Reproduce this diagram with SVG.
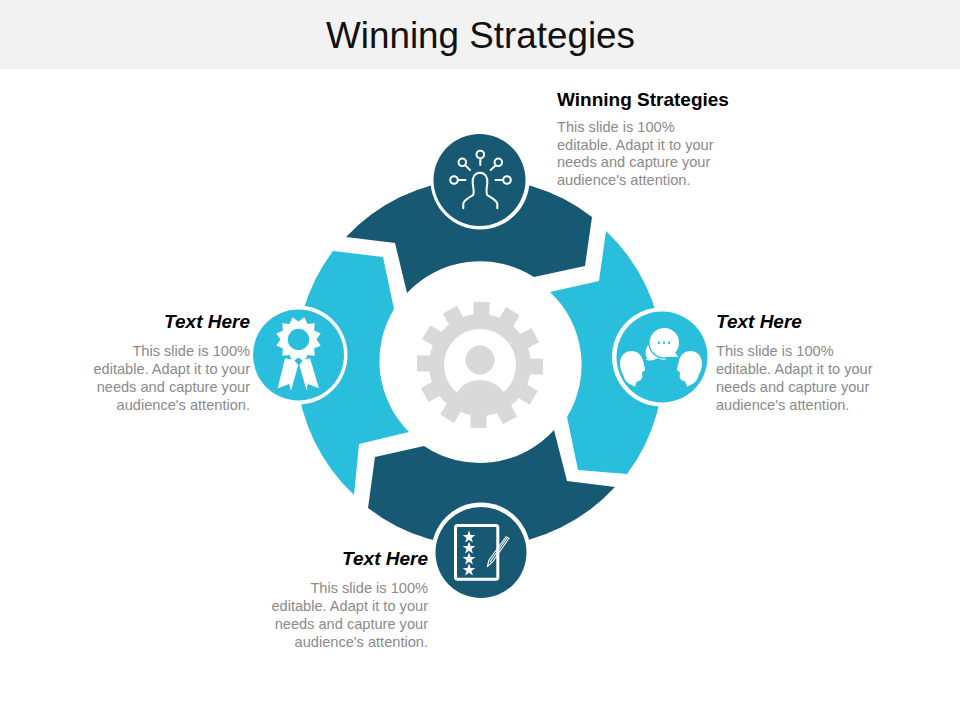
<svg xmlns="http://www.w3.org/2000/svg" width="960" height="720" viewBox="0 0 960 720">
<style>
text{font-family:"Liberation Sans",Arial,sans-serif}
.title{font-size:36.8px;fill:#111;text-anchor:middle}
.h{font-size:19px;font-weight:bold;fill:#000}
.hi{font-style:italic}
.b{font-size:14.6px;fill:#8a8a8a}
.e{text-anchor:end}
.dark{fill:#175873}
.cyan{fill:#29bedc}
.ring{fill:#fff}
.line{fill:none;stroke:#fff;stroke-width:2;stroke-linecap:round;stroke-linejoin:round}
.w{fill:#fff}
.gear{fill:#d9d9d9}
</style>
<rect width="960" height="69" fill="#f2f2f2"/>
<text class="title" x="480.5" y="48">Winning Strategies</text>

<g id="segment-top"><path class="dark" d="M346,237A183,183 0 0 1 592,217L585,266L534,277A100,100 0 0 0 407,293L395,243Z"/></g>
<g id="segment-right"><path class="cyan" d="M606,231A183,183 0 0 1 627,474L578,470L567,417A100,100 0 0 0 550,292L599,281Z"/></g>
<g id="segment-bottom"><path class="dark" d="M615,487A183,183 0 0 1 368,508L375,457L424,446A100,100 0 0 0 554,430L567,481Z"/></g>
<g id="segment-left"><path class="cyan" d="M354,495A183,183 0 0 1 333,251L383,257L394,309A100,100 0 0 0 409,432L359,444Z"/></g>

<g id="gear">
<g transform="translate(480 365) rotate(1.5)" class="gear">
<rect x="-8" y="-63" width="16" height="126"/>
<rect x="-8" y="-63" width="16" height="126" transform="rotate(30)"/>
<rect x="-8" y="-63" width="16" height="126" transform="rotate(60)"/>
<rect x="-8" y="-63" width="16" height="126" transform="rotate(90)"/>
<rect x="-8" y="-63" width="16" height="126" transform="rotate(120)"/>
<rect x="-8" y="-63" width="16" height="126" transform="rotate(150)"/>
</g>
<circle class="gear" cx="480" cy="365" r="51"/>
<circle class="w" cx="480" cy="365" r="36"/>
<circle class="gear" cx="480" cy="360" r="14.5"/>
<path class="gear" d="M457,393C461,385 470,380 480,380C490,380 499,385 504,393L490,410H470Z"/>
</g>

<g id="node-top">
<circle class="ring" cx="480" cy="180" r="49.5"/>
<circle class="dark" cx="479.5" cy="180" r="46"/>
<path class="line" d="M463.3,208.3V203.3C465,199 470,197 473.3,195C474.5,191 473,187 472.7,183.3C472,177 475,172.7 480,172.7C485,172.7 488,177 487.3,183.3C487,187 485.5,191 487.3,195C490,197 495,199 497.3,203.3V208.3"/>
<g class="line">
<circle cx="480.3" cy="154.5" r="3.8"/><circle cx="462.3" cy="162.3" r="3.8"/><circle cx="498.3" cy="162.3" r="3.8"/><circle cx="454" cy="180" r="3.8"/><circle cx="507" cy="180" r="3.8"/>
<path d="M480.3,158.5V165M466,166L470,170M495,166L490.7,170M458.5,180H465.5M502.5,180H495.5"/>
</g>
<text class="h" x="557" y="106">Winning Strategies</text>
<text class="b"><tspan x="557" y="132">This slide is 100%</tspan><tspan x="557" y="150">editable. Adapt it to your</tspan><tspan x="557" y="167">needs and capture your</tspan><tspan x="557" y="185">audience's attention.</tspan></text>
</g>

<g id="node-right">
<circle class="ring" cx="661.5" cy="357" r="49.5"/>
<circle class="cyan" cx="662" cy="357" r="45.5"/>
<path class="w" d="M631.7,351C624,351 620,357 620,363.3C620,368 621.5,372 623.3,375C624,379 626,381.5 628.3,383.3L635,386.7L636.7,381.7L640.7,380C642,379 642.6,377 642.3,375L641.7,372.7L645.3,370L643.3,361.7C642,355 637,351 631.7,351Z"/>
<path class="w" d="M690.3,351C698,351 702,357 702,363.3C702,368 700.5,372 698.7,375C698,379 696,381.5 693.7,383.3L687,386.7L685.3,381.7L681.3,380C680,379 679.4,377 679.7,375L680.3,372.7L676.7,370L678.7,361.7C680,355 685,351 690.3,351Z"/>
<path class="w" d="M648,345C645,350 645,355 647,358L646,360C651,361 655,360 658,358C661,360 664,360 667,359L655,355Z"/>
<circle cx="664.3" cy="342.7" r="16" fill="#29bedc"/>
<circle class="w" cx="664.3" cy="342.7" r="14.7"/>
<path class="w" d="M666,357L678.3,356.7L673,350Z"/>
<g class="cyan"><circle cx="659" cy="342.7" r="1.2"/><circle cx="664" cy="342.7" r="1.2"/><circle cx="669" cy="342.7" r="1.2"/></g>
<text class="h hi" x="716" y="328">Text Here</text>
<text class="b"><tspan x="716" y="356">This slide is 100%</tspan><tspan x="716" y="374">editable. Adapt it to your</tspan><tspan x="716" y="392">needs and capture your</tspan><tspan x="716" y="410">audience's attention.</tspan></text>
</g>

<g id="node-bottom">
<circle class="ring" cx="481" cy="552" r="49.5"/>
<circle class="dark" cx="481" cy="552.5" r="45.5"/>
<rect x="455.5" y="525.5" width="42.3" height="53.7" rx="2" fill="none" stroke="#fff" stroke-width="3"/>
<g class="w">
<path d="M469,530.5L470.6,535H475.3L471.5,537.9L472.9,542.5L469,539.8L465.1,542.5L466.5,537.9L462.7,535H467.4Z"/>
<path d="M469,541.5L470.6,546H475.3L471.5,548.9L472.9,553.5L469,550.8L465.1,553.5L466.5,548.9L462.7,546H467.4Z"/>
<path d="M469,552.5L470.6,557H475.3L471.5,559.9L472.9,564.5L469,561.8L465.1,564.5L466.5,559.9L462.7,557H467.4Z"/>
<path d="M469,563.5L470.6,568H475.3L471.5,570.9L472.9,575.5L469,572.8L465.1,575.5L466.5,570.9L462.7,568H467.4Z"/>
</g>
<path d="M487.3,566.7L489,560L506,536.7L509,538.3L492.7,561.7ZM490,562L507,538" fill="none" stroke="#fff" stroke-width="1.1" stroke-linejoin="round"/>
<text class="h hi e" x="428" y="565">Text Here</text>
<text class="b e"><tspan x="428" y="593">This slide is 100%</tspan><tspan x="428" y="611">editable. Adapt it to your</tspan><tspan x="428" y="629">needs and capture your</tspan><tspan x="428" y="647">audience's attention.</tspan></text>
</g>

<g id="node-left">
<circle class="ring" cx="298" cy="355" r="49.5"/>
<circle class="cyan" cx="298.5" cy="355" r="45.5"/>
<path class="w" transform="translate(298.5 339.5) rotate(15)" d="M0,-23L4.66,-17.39L11.5,-19.9L12.73,-12.73L19.9,-11.5L17.39,-4.66L23,0L17.39,4.66L19.9,11.5L12.73,12.73L11.5,19.9L4.66,17.39L0,23L-4.66,17.39L-11.5,19.9L-12.73,12.73L-19.9,11.5L-17.39,4.66L-23,0L-17.39,-4.66L-19.9,-11.5L-12.73,-12.73L-11.5,-19.9L-4.66,-17.39Z"/>
<circle class="cyan" cx="298.5" cy="339.5" r="10.7"/>
<path class="w" d="M285,358.3L277.7,388.3L289.3,384L291,390.7L298.3,365L294,360Z"/>
<path class="w" d="M310,358.3L319,388.3L307.7,384L306.7,390.7L299.3,365L303,360Z"/>
<text class="h hi e" x="250" y="328">Text Here</text>
<text class="b e"><tspan x="250" y="356">This slide is 100%</tspan><tspan x="250" y="374">editable. Adapt it to your</tspan><tspan x="250" y="392">needs and capture your</tspan><tspan x="250" y="410">audience's attention.</tspan></text>
</g>
</svg>
